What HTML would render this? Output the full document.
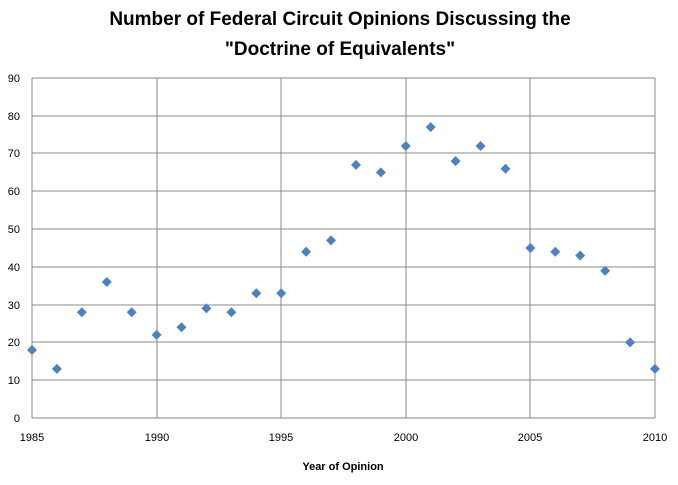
<!DOCTYPE html>
<html><head><style>body{margin:0;background:#fff}</style></head><body>
<svg width="678" height="480" xmlns="http://www.w3.org/2000/svg" font-family="Liberation Sans, sans-serif">
<rect width="678" height="480" fill="#fff"/>
<text x="340" y="25" text-anchor="middle" font-size="19" font-weight="bold">Number of Federal Circuit Opinions Discussing the</text>
<text x="340" y="55" text-anchor="middle" font-size="19" font-weight="bold">"Doctrine of Equivalents"</text>
<g stroke="#888" stroke-width="1" shape-rendering="crispEdges">
<line x1="32" y1="78" x2="655" y2="78"/>
<line x1="32" y1="116" x2="655" y2="116"/>
<line x1="32" y1="153" x2="655" y2="153"/>
<line x1="32" y1="191" x2="655" y2="191"/>
<line x1="32" y1="229" x2="655" y2="229"/>
<line x1="32" y1="267" x2="655" y2="267"/>
<line x1="32" y1="305" x2="655" y2="305"/>
<line x1="32" y1="342" x2="655" y2="342"/>
<line x1="32" y1="380" x2="655" y2="380"/>
<line x1="157" y1="78" x2="157" y2="418"/>
<line x1="281" y1="78" x2="281" y2="418"/>
<line x1="406" y1="78" x2="406" y2="418"/>
<line x1="530" y1="78" x2="530" y2="418"/>
<line x1="655" y1="78" x2="655" y2="418"/>
<line x1="32" y1="78" x2="32" y2="418"/>
<line x1="32" y1="418" x2="655" y2="418"/>
</g>
<g font-size="11" text-anchor="end" fill="#000">
<text x="20" y="82">90</text><text x="20" y="120">80</text><text x="20" y="157">70</text>
<text x="20" y="195">60</text><text x="20" y="233">50</text><text x="20" y="271">40</text>
<text x="20" y="309">30</text><text x="20" y="346">20</text><text x="20" y="384">10</text>
<text x="20" y="422">0</text>
</g>
<g font-size="11" text-anchor="middle">
<text x="32" y="441">1985</text><text x="157" y="441">1990</text><text x="281" y="441">1995</text>
<text x="406" y="441">2000</text><text x="530" y="441">2005</text><text x="655" y="441">2010</text>
</g>
<text x="343" y="470" text-anchor="middle" font-size="11" font-weight="bold">Year of Opinion</text>
<g fill="#4f81bd">
<path d="M32 345l5 5-5 5-5-5z"/>
<path d="M56.9 363.9l5 5-5 5-5-5z"/>
<path d="M81.8 307.2l5 5-5 5-5-5z"/>
<path d="M106.8 277l5 5-5 5-5-5z"/>
<path d="M131.7 307.2l5 5-5 5-5-5z"/>
<path d="M156.6 329.9l5 5-5 5-5-5z"/>
<path d="M181.5 322.3l5 5-5 5-5-5z"/>
<path d="M206.4 303.4l5 5-5 5-5-5z"/>
<path d="M231.4 307.2l5 5-5 5-5-5z"/>
<path d="M256.3 288.3l5 5-5 5-5-5z"/>
<path d="M281.2 288.3l5 5-5 5-5-5z"/>
<path d="M306.1 246.8l5 5-5 5-5-5z"/>
<path d="M331 235.4l5 5-5 5-5-5z"/>
<path d="M356 159.9l5 5-5 5-5-5z"/>
<path d="M380.9 167.4l5 5-5 5-5-5z"/>
<path d="M405.8 141l5 5-5 5-5-5z"/>
<path d="M430.7 122.1l5 5-5 5-5-5z"/>
<path d="M455.6 156.1l5 5-5 5-5-5z"/>
<path d="M480.6 141l5 5-5 5-5-5z"/>
<path d="M505.5 163.7l5 5-5 5-5-5z"/>
<path d="M530.4 243l5 5-5 5-5-5z"/>
<path d="M555.3 246.8l5 5-5 5-5-5z"/>
<path d="M580.2 250.5l5 5-5 5-5-5z"/>
<path d="M605.2 265.7l5 5-5 5-5-5z"/>
<path d="M630.1 337.4l5 5-5 5-5-5z"/>
<path d="M655 363.9l5 5-5 5-5-5z"/>
</g>
</svg>
</body></html>
